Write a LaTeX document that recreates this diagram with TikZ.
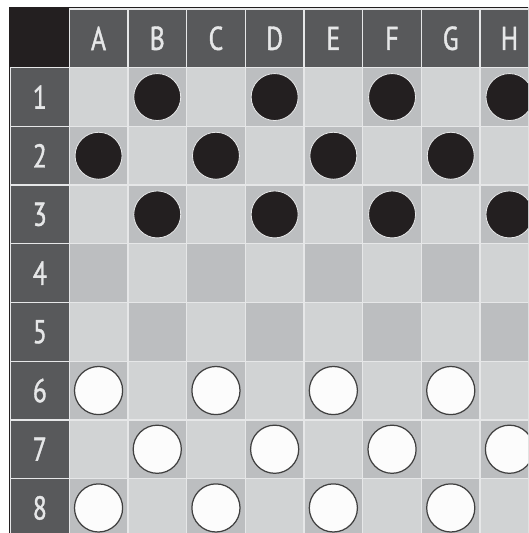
\documentclass[tikz,border=0pt]{standalone}
\usepackage{fontspec}
\newfontfamily\rotulo[FakeStretch=0.78,FakeBold=1.2]{PT Sans}
\usetikzlibrary{positioning}
\definecolor{esquina}{HTML}{231F20}
\definecolor{fondo}{HTML}{58595B}
\definecolor{claro}{HTML}{D1D3D4}
\definecolor{oscuro}{HTML}{BCBEC0}
\definecolor{linea}{HTML}{E6E7E8}
\tikzset{
  cab/.style={fill=fondo,draw=linea,line width=0.6pt},
  clara/.style={fill=claro,draw=linea,line width=0.6pt},
  oscura/.style={fill=oscuro,draw=linea,line width=0.6pt},
  rot/.style={text=linea,font=\rotulo\fontsize{16}{16}\selectfont},
  negra/.style={circle,fill=esquina,draw=linea,line width=0.4pt,minimum size=0.8cm,inner sep=0pt},
  blanca/.style={circle,fill=white!98!gray,draw=black!75,line width=0.6pt,minimum size=0.82cm,inner sep=0pt}
}
\begin{document}
\begin{tikzpicture}[x=1cm,y=1cm]
\useasboundingbox (-0.179,0.153) rectangle (8.816,-8.927);
\clip (-0.179,0.153) rectangle (8.816,-8.927);
% borde y esquina
\fill[esquina] (-0.0256,0.0256) rectangle (9,-9);
% cabeceras
\foreach \l [count=\c] in {A,B,C,D,E,F,G,H}{
  \draw[cab] (\c,0) rectangle (\c+1,-1);
  \node[rot] (col\l) at (\c+0.5,-0.5) {\l};}
\foreach \r in {1,...,8}{
  \draw[cab] (0,-\r) rectangle (1,-\r-1);
  \node[rot] (fila\r) at (0.5,-\r-0.5) {\r};}
% casillas
\foreach \c in {1,...,8}{
  \foreach \r in {1,...,8}{
    \pgfmathtruncatemacro\pari{mod(\c+\r,2)}
    \ifnum\pari=1
      \draw[oscura] (\c,-\r) rectangle (\c+1,-\r-1);
    \else
      \draw[clara] (\c,-\r) rectangle (\c+1,-\r-1);
    \fi}}
% fichas
\foreach \c in {1,...,8}{
  \foreach \r in {1,2,3,6,7,8}{
    \pgfmathtruncatemacro\pari{mod(\c+\r,2)}
    \ifnum\pari=1
      \ifnum\r<4
        \node[negra] (n-\c-\r) at (\c+0.5,-\r-0.5) {};
      \else
        \node[blanca] (b-\c-\r) at (\c+0.5,-\r-0.5) {};
      \fi
    \fi}}
\end{tikzpicture}
\end{document}
